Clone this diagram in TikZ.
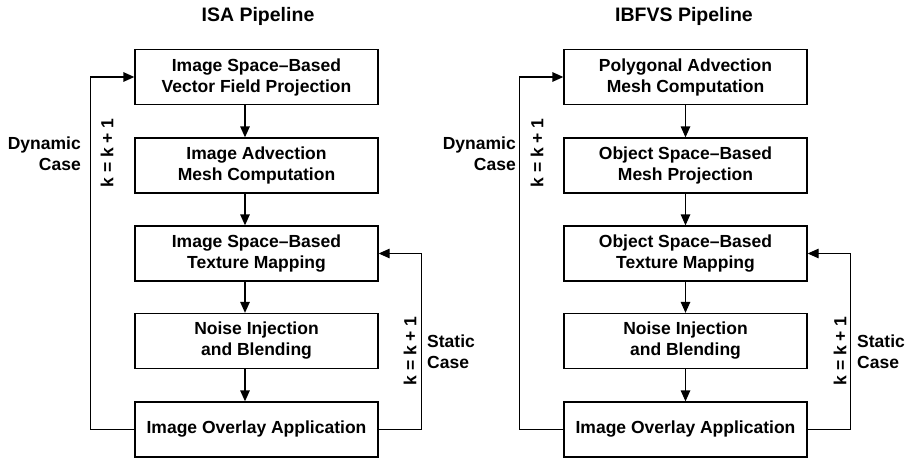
\documentclass[tikz,border=0pt]{standalone}
\usepackage{fontspec}
\setmainfont{Liberation Sans}
\usetikzlibrary{arrows.meta}
\tikzset{
  box/.style={draw, line width=1.3pt, minimum width=243pt, minimum height=55pt, align=center, inner sep=0pt,
    font=\fontsize{17.5}{21}\selectfont\bfseries},
  arr/.style={line width=1.3pt, -{Triangle[length=11pt,width=9.5pt]}},
  lbl/.style={font=\fontsize{17.5}{21}\selectfont\bfseries, inner sep=0pt},
  ttl/.style={font=\fontsize{19.5}{23}\selectfont\bfseries, inner sep=0pt},
}
\begin{document}
\begin{tikzpicture}[x=1pt,y=-1pt]
\useasboundingbox (0,0) rectangle (905,460);
% ISA pipeline
\node[ttl] (t1) at (258,16) {ISA Pipeline};
\node[box] (a1) at (256.5,77)  {Image Space–Based\\Vector Field Projection};
\node[box] (a2) at (256.5,165.5) {Image Advection\\Mesh Computation};
\node[box] (a3) at (256.5,253.5) {Image Space–Based\\Texture Mapping};
\node[box] (a4) at (256.5,341) {Noise Injection\\and Blending};
\node[box] (a5) at (256.5,429.5) {Image Overlay Application};
\draw[arr] ([xshift=-11.5pt]a1.south) -- ([xshift=-11.5pt]a2.north);
\draw[arr] ([xshift=-11.5pt]a2.south) -- ([xshift=-11.5pt]a3.north);
\draw[arr] ([xshift=-11.5pt]a3.south) -- ([xshift=-11.5pt]a4.north);
\draw[arr] ([xshift=-11.5pt]a4.south) -- ([xshift=-11.5pt]a5.north);
\draw[arr] (a5.west) -- ++(-44,0) |- (a1.west);
\draw[arr] (a5.east) -- ++(43,0) |- (a3.east);
\node[lbl, align=right, anchor=east] (d1) at (81,154) {Dynamic\\Case};
\node[lbl, rotate=90] (k1) at (107,153) {k = k + 1};
\node[lbl, align=left, anchor=west] (s1) at (427,351.5) {Static\\Case};
\node[lbl, rotate=90] (k2) at (410,351) {k = k + 1};
% IBFVS pipeline
\node[ttl] (t2) at (684,16) {IBFVS Pipeline};
\node[box] (b1) at (685.5,77)  {Polygonal Advection\\Mesh Computation};
\node[box] (b2) at (685.5,165.5) {Object Space–Based\\Mesh Projection};
\node[box] (b3) at (685.5,253.5) {Object Space–Based\\Texture Mapping};
\node[box] (b4) at (685.5,341) {Noise Injection\\and Blending};
\node[box] (b5) at (685.5,429.5) {Image Overlay Application};
\draw[arr] (b1) -- (b2);
\draw[arr] (b2) -- (b3);
\draw[arr] (b3) -- (b4);
\draw[arr] (b4) -- (b5);
\draw[arr] (b5.west) -- ++(-44,0) |- (b1.west);
\draw[arr] (b5.east) -- ++(43,0) |- (b3.east);
\node[lbl, align=right, anchor=east] (d2) at (516,154) {Dynamic\\Case};
\node[lbl, rotate=90] (k3) at (537,153) {k = k + 1};
\node[lbl, align=left, anchor=west] (s2) at (857,351.5) {Static\\Case};
\node[lbl, rotate=90] (k4) at (840,351) {k = k + 1};
\end{tikzpicture}
\end{document}
